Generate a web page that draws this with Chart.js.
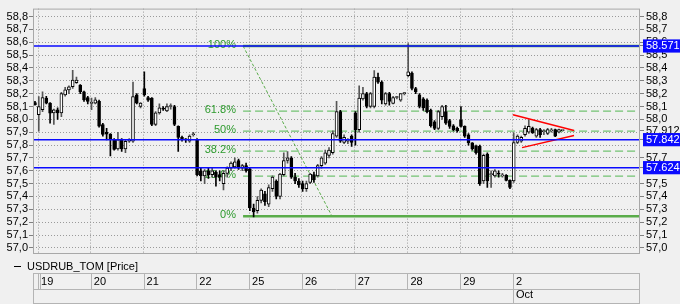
<!DOCTYPE html>
<html>
<head>
<meta charset="utf-8">
<script src="https://cdn.jsdelivr.net/npm/chart.js@4/dist/chart.umd.min.js"></script>
<style>
  html, body { margin: 0; padding: 0; background: #f0f0f0; }
  #wrap { width: 680px; height: 304px; }
</style>
</head>
<body>
<div id="wrap"><canvas id="graphCanvas" width="680" height="304"></canvas></div>
<script>
// sessions shown on the time axis (14 bars each)
const dayLabels = ['19', '20', '21', '22', '25', '26', '27', '28', '29', '2'];
const monthLabel = 'Oct';
const barsPerDay = 14;
const firstBar = -1; // first candle is the last bar of the previous session
const seriesName = 'USDRUB_TOM [Price]';

// OHLC, one value per bar
const opens = [58.13,
  58.036, 58.075, 58.165, 58.126, 58.05, 58.075, 58.05, 58.19, 58.23, 58.254, 58.285, 58.266, 58.215, 58.17,
  58.125, 58.126, 58.14, 57.96, 57.9, 57.885, 57.845, 57.77, 57.84, 57.77, 57.83, 57.83, 58.19, 58.1,
  58.24, 58.17, 58.165, 57.96, 58.05, 58.085, 58.065, 58.1, 58.1, 57.946, 57.86, 57.845, 57.83, 57.88,
  57.845, 57.6, 57.56, 57.6, 57.57, 57.59, 57.57, 57.5, 57.58, 57.62, 57.63, 57.68, 57.62, 57.64,
  57.615, 57.31, 57.29, 57.37, 57.42, 57.34, 57.46, 57.52, 57.4, 57.57, 57.68, 57.7, 57.55, 57.52,
  57.5, 57.46, 57.51, 57.57, 57.56, 57.64, 57.66, 57.72, 57.74, 57.87, 58.06, 57.82, 57.83, 57.87,
  58.05, 57.92, 58.16, 58.2, 58.1, 58.1, 58.33, 58.29, 58.12, 58.2, 58.125, 58.17, 58.15, 58.2,
  58.34, 58.36, 58.24, 58.19, 58.16, 58.15, 58.07, 57.98, 57.93, 58.02, 58.06, 57.99, 57.95, 57.93,
  57.997, 57.946, 57.88, 57.818, 57.79, 57.79, 57.52, 57.73, 57.57, 57.56, 57.575, 57.56, 57.565, 57.525,
  57.52, 57.82, 57.83, 57.88, 57.9, 57.933, 57.87, 57.92, 57.905, 57.89, 57.91, 57.921, 57.9, 57.912];
const highs = [58.14,
  58.177, 58.215, 58.18, 58.13, 58.08, 58.09, 58.21, 58.25, 58.26, 58.382, 58.33, 58.27, 58.22, 58.18,
  58.165, 58.17, 58.15, 57.97, 57.93, 57.89, 57.85, 57.9, 57.85, 57.84, 57.85, 58.29, 58.2, 58.13,
  58.37, 58.18, 58.17, 58.06, 58.12, 58.1, 58.12, 58.12, 58.11, 57.95, 57.87, 57.85, 57.88, 57.9,
  57.85, 57.62, 57.61, 57.62, 57.62, 57.6, 57.6, 57.6, 57.63, 57.67, 57.7, 57.69, 57.65, 57.66,
  57.625, 57.34, 57.4, 57.46, 57.44, 57.49, 57.56, 57.53, 57.58, 57.74, 57.75, 57.71, 57.58, 57.54,
  57.52, 57.52, 57.58, 57.59, 57.65, 57.71, 57.76, 57.78, 57.91, 58.14, 58.07, 57.88, 57.85, 57.88,
  58.06, 58.26, 58.25, 58.21, 58.21, 58.38, 58.36, 58.3, 58.21, 58.21, 58.18, 58.18, 58.2, 58.21,
  58.59, 58.37, 58.25, 58.2, 58.17, 58.16, 58.08, 57.99, 58.07, 58.11, 58.11, 58.0, 57.96, 57.94,
  58.1, 57.95, 57.89, 57.82, 57.8, 57.8, 57.73, 57.74, 57.6, 57.61, 57.6, 57.58, 57.57, 57.53,
  57.895, 57.88, 57.87, 57.95, 57.997, 57.94, 57.93, 57.93, 57.92, 57.93, 57.93, 57.925, 57.925, 57.915];
const lows = [58.11,
  57.908, 58.06, 58.12, 57.97, 57.96, 58.0, 58.02, 58.18, 58.2, 58.24, 58.28, 58.2, 58.14, 58.12,
  58.075, 58.12, 57.94, 57.87, 57.84, 57.716, 57.76, 57.76, 57.75, 57.74, 57.82, 57.82, 58.12, 58.09,
  58.18, 58.14, 57.95, 57.95, 58.04, 58.07, 58.06, 58.08, 57.95, 57.75, 57.83, 57.82, 57.82, 57.87,
  57.56, 57.52, 57.5, 57.54, 57.55, 57.48, 57.52, 57.45, 57.55, 57.6, 57.62, 57.61, 57.6, 57.59,
  57.29, 57.24, 57.27, 57.35, 57.33, 57.32, 57.44, 57.38, 57.38, 57.56, 57.66, 57.54, 57.5, 57.47,
  57.44, 57.44, 57.5, 57.51, 57.55, 57.62, 57.65, 57.7, 57.73, 57.86, 57.82, 57.81, 57.81, 57.79,
  57.8, 57.9, 58.15, 58.09, 58.09, 58.09, 58.28, 58.12, 58.11, 58.11, 58.12, 58.16, 58.14, 58.19,
  58.33, 58.23, 58.2, 58.09, 58.07, 58.05, 57.94, 57.92, 57.92, 58.0, 57.96, 57.93, 57.91, 57.9,
  57.94, 57.86, 57.8, 57.76, 57.73, 57.485, 57.5, 57.47, 57.47, 57.55, 57.55, 57.55, 57.52, 57.46,
  57.51, 57.81, 57.82, 57.87, 57.89, 57.89, 57.86, 57.86, 57.88, 57.88, 57.9, 57.865, 57.895, 57.91];
const closes = [58.115,
  58.10, 58.17, 58.126, 58.049, 58.075, 58.05, 58.2, 58.23, 58.254, 58.305, 58.305, 58.215, 58.152, 58.14,
  58.128, 58.152, 57.947, 57.882, 57.885, 57.845, 57.767, 57.84, 57.77, 57.83, 57.835, 58.177, 58.126, 58.126,
  58.19, 58.15, 57.96, 58.05, 58.09, 58.08, 58.1, 58.1, 57.96, 57.86, 57.845, 57.84, 57.87, 57.885,
  57.57, 57.56, 57.6, 57.57, 57.6, 57.55, 57.55, 57.58, 57.62, 57.66, 57.67, 57.62, 57.64, 57.6,
  57.31, 57.28, 57.37, 57.45, 57.36, 57.47, 57.55, 57.4, 57.575, 57.68, 57.7, 57.55, 57.52, 57.49,
  57.46, 57.5, 57.575, 57.53, 57.64, 57.7, 57.74, 57.76, 57.89, 58.06, 57.83, 57.86, 57.835, 57.82,
  57.92, 58.165, 58.2, 58.1, 58.2, 58.33, 58.29, 58.15, 58.2, 58.14, 58.17, 58.172, 58.2, 58.2,
  58.37, 58.24, 58.215, 58.1, 58.09, 58.06, 57.95, 57.93, 58.06, 58.1, 57.97, 57.945, 57.92, 57.91,
  57.946, 57.87, 57.818, 57.77, 57.741, 57.5, 57.72, 57.52, 57.575, 57.6, 57.573, 57.562, 57.525, 57.47,
  57.82, 57.87, 57.86, 57.93, 57.946, 57.895, 57.92, 57.88, 57.91, 57.92, 57.912, 57.87, 57.92, 57.912];

// price axis ticks
const yTicks = [57.0, 57.1, 57.2, 57.3, 57.4, 57.5, 57.6, 57.7, 57.8, 57.9,
                58.0, 58.1, 58.2, 58.3, 58.4, 58.5, 58.6, 58.7, 58.8];
// horizontal levels (blue) and last price
const blueLevels = [58.571, 57.842, 57.624];
const lastPrice = 57.912;

// fibonacci retracement
const fibHigh = 58.571;
const fibLow = 57.246;
const fibRatios = [1, 0.618, 0.5, 0.382, 0.236, 0];
const fibLabels = ['100%', '61.8%', '50%', '38.2%', '23.6%', '0%'];
const fibStartBar = 54.4;
const fibEndBar = 78.0;
const fibLabelBar = 52.5;

// triangle (bar, price)
const triUpper = [[126.0, 58.036], [142.2, 57.913]];
const triLower = [[128.4, 57.78], [142.2, 57.874]];

const xMin = -1.33, xMax = 159.7;
const yMin = 56.96, yMax = 58.862;

Chart.defaults.font.family = '"Liberation Sans", Arial, sans-serif';
Chart.defaults.font.size = 11;
Chart.defaults.color = '#000';

function fibLevel(r) {
  return fibLow + r * (fibHigh - fibLow);
}

let bodies = [], wicks = [], bodyColors = [], wickColors = [];
for (let i in opens) {
  let x = firstBar + Number(i) + 0.2;
  let up = closes[i] >= opens[i];
  bodies.push({ x: x, y: [opens[i], closes[i]] });
  wicks.push({ x: x, y: [lows[i], highs[i]] });
  bodyColors.push(up ? '#ffffff' : '#000000');
  wickColors.push(up ? '#555555' : '#000000');
}

function hline(v) {
  return [{ x: xMin, y: v }, { x: xMax, y: v }];
}

let datasets = [{
  label: seriesName,
  data: bodies,
  backgroundColor: bodyColors,
  borderColor: '#000000',
  borderWidth: 1,
  borderSkipped: false,
  barThickness: 3,
  minBarLength: 1,
  grouped: false,
  order: 0
}, {
  label: 'wick',
  data: wicks,
  backgroundColor: wickColors,
  borderWidth: 0,
  barThickness: 1,
  grouped: false,
  order: 1
}];

blueLevels.forEach(function(v) {
  datasets.push({
    type: 'line', data: hline(v), borderColor: '#0a0aff', borderWidth: 1.5,
    pointRadius: 0, order: -1
  });
});

fibRatios.forEach(function(r) {
  let solid = (r === 1 || r === 0);
  datasets.push({
    type: 'line',
    data: [{ x: fibStartBar, y: fibLevel(r) }, { x: xMax, y: fibLevel(r) }],
    borderColor: solid ? '#5aac4a' : '#72c272',
    borderWidth: solid ? 2.5 : 1.3,
    borderDash: solid ? [] : [8, 4],
    pointRadius: 0,
    order: 3
  });
});

datasets.push({
  type: 'line',
  data: [{ x: fibStartBar, y: fibHigh }, { x: fibEndBar, y: fibLow }],
  borderColor: '#5aac4a', borderWidth: 1, borderDash: [3, 2],
  pointRadius: 0, order: 3
});

[triUpper, triLower].forEach(function(seg) {
  datasets.push({
    type: 'line',
    data: seg.map(function(p) { return { x: p[0], y: p[1] }; }),
    borderColor: '#ff0000', borderWidth: 1.5, pointRadius: 0, order: -1
  });
});

// fib text labels
const fibText = {
  id: 'fibText',
  beforeDatasetsDraw(chart) {
    const ctx = chart.ctx, x = chart.scales.x, y = chart.scales.y;
    ctx.save();
    ctx.font = '11px "Liberation Sans", Arial, sans-serif';
    ctx.fillStyle = '#2c9a2c';
    ctx.textAlign = 'right';
    ctx.textBaseline = 'middle';
    fibRatios.forEach(function(r, i) {
      ctx.fillText(fibLabels[i], x.getPixelForValue(fibLabelBar), y.getPixelForValue(fibLevel(r)) - 1);
    });
    ctx.restore();
  }
};

// frame, legend line and the date panel
const frame = {
  id: 'frame',
  afterDraw(chart) {
    const ctx = chart.ctx, a = chart.chartArea, x = chart.scales.x;
    ctx.save();
    ctx.strokeStyle = '#a8a8a8';
    ctx.lineWidth = 1;
    ctx.strokeRect(a.left + 0.5, a.top + 0.5, a.right - a.left - 1, a.bottom - a.top);

    // legend
    ctx.strokeStyle = '#000';
    ctx.beginPath();
    ctx.moveTo(14, 266.5);
    ctx.lineTo(21, 266.5);
    ctx.stroke();
    ctx.fillStyle = '#000';
    ctx.font = '11px "Liberation Sans", Arial, sans-serif';
    ctx.textBaseline = 'middle';
    ctx.fillText(seriesName, 27, 267);

    // date panel
    const top = 273.5, mid = 289.5, bot = 303.5;
    ctx.strokeStyle = '#b4b4b4';
    ctx.strokeRect(a.left + 0.5, top, a.right - a.left - 1, bot - top);
    ctx.beginPath();
    ctx.moveTo(a.left, mid);
    ctx.lineTo(a.right, mid);
    dayLabels.forEach(function(d, i) {
      let px = Math.round(x.getPixelForValue(i * barsPerDay)) + 0.5;
      ctx.moveTo(px, top);
      ctx.lineTo(px, i === dayLabels.length - 1 ? bot : mid);
      if (i === 0) {
        ctx.moveTo(px + 2, top);
        ctx.lineTo(px + 2, mid);
      }
    });
    ctx.stroke();
    ctx.restore();
  }
};

let graphTarget = document.getElementById('graphCanvas');
let candleGraph = new Chart(graphTarget, {
  type: 'bar',
  data: { datasets: datasets },
  plugins: [fibText, frame],
  options: {
    responsive: false,
    animation: false,
    devicePixelRatio: 1,
    events: [],
    layout: { padding: { top: 6, left: 0, right: 0, bottom: 0 } },
    plugins: { legend: { display: false }, tooltip: { enabled: false } },
    scales: {
      x: {
        type: 'linear',
        min: xMin,
        max: xMax,
        offset: false,
        afterBuildTicks: function(s) {
          s.ticks = dayLabels.map(function(d, i) { return { value: i * barsPerDay }; });
        },
        afterFit: function(s) { s.height = 51; },
        grid: { offset: false, color: '#9a9a9a', drawTicks: false },
        border: { display: false, dash: [1, 2] },
        ticks: {
          autoSkip: false,
          maxRotation: 0,
          align: 'start',
          labelOffset: 3,
          padding: 22,
          callback: function(v, i) {
            let k = Math.round(v / barsPerDay);
            return k === dayLabels.length - 1 ? [dayLabels[k], monthLabel] : dayLabels[k];
          }
        }
      },
      y: {
        position: 'left',
        min: yMin,
        max: yMax,
        afterBuildTicks: function(s) {
          s.ticks = yTicks.map(function(v) { return { value: v }; });
        },
        afterFit: function(s) { s.width = 33; },
        grid: { color: '#9a9a9a', tickLength: 4, tickColor: '#808080' },
        border: { display: false, dash: [1, 2] },
        ticks: {
          autoSkip: false,
          padding: 1,
          callback: function(v) { return v.toFixed(1).replace('.', ','); }
        }
      },
      y2: {
        type: 'linear',
        position: 'right',
        min: yMin,
        max: yMax,
        afterBuildTicks: function(s) {
          let t = yTicks.filter(function(v) { return v !== 57.9 && v !== 57.8 && v !== 57.6; });
          t.push(lastPrice);
          blueLevels.forEach(function(v) { t.push(v); });
          s.ticks = t.map(function(v) { return { value: v }; });
        },
        afterFit: function(s) { s.width = 40; },
        grid: { drawOnChartArea: false, tickLength: 4, tickColor: '#808080' },
        border: { display: false },
        ticks: {
          autoSkip: false,
          padding: 2,
          showLabelBackdrop: function(c) { return !!c.tick && blueLevels.includes(c.tick.value); },
          backdropColor: '#0a0aff',
          backdropPadding: { x: 3, y: 0 },
          color: function(c) { return c.tick && blueLevels.includes(c.tick.value) ? '#ffffff' : '#000000'; },
          callback: function(v) {
            if (v === lastPrice || blueLevels.includes(v)) return v.toFixed(3);
            return v.toFixed(1).replace('.', ',');
          }
        }
      }
    }
  }
});
</script>
</body>
</html>
